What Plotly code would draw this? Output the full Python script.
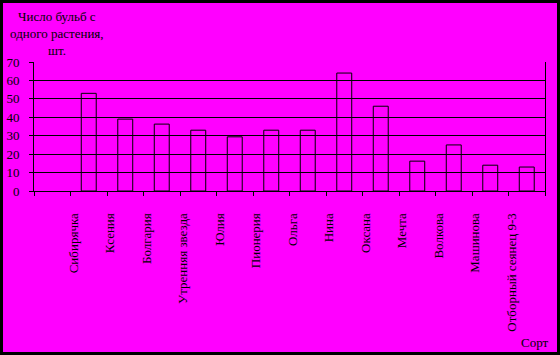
import plotly.graph_objects as go

categories = [" ", "Сибирячка", "Ксения", "Болгария", "Утренняя звезда", "Юлия",
              "Пионерия", "Ольга", "Нина", "Оксана", "Мечта", "Волкова",
              "Машинова", "Отборный сеянец 9-3"]
values = [None, 53, 39, 36.3, 33, 29.4, 33, 33, 64, 46, 16.2, 25, 14, 13]
y_ticks = [0, 10, 20, 30, 40, 50, 60, 70]

W, H = 560, 355
ML, MR, MT, MB = 34, 15, 62, 164
PW, PH = W - ML - MR, H - MT - MB

def px_x(p):
    return (p - ML) / PW

def px_y(p):
    return 1 - (p - MT) / PH

FONT = "Liberation Serif"
MAG = "#FF00FF"

fig = go.Figure(go.Bar(
    x=categories, y=values, width=0.41,
    marker=dict(color="rgba(0,0,0,0)", line=dict(color="black", width=1)),
))

fig.update_layout(
    width=W, height=H,
    margin=dict(l=ML, r=MR, t=MT, b=MB),
    paper_bgcolor=MAG, plot_bgcolor=MAG,
    showlegend=False,
    font=dict(family=FONT, size=13, color="black"),
    xaxis=dict(
        type="category", categoryorder="array", categoryarray=categories,
        range=[-0.5, len(categories) - 0.5], automargin=False,
        tickson="boundaries", ticks="outside", ticklen=4, tickcolor="black",
        tickwidth=1, tickangle=-90, ticklabelshift=-15, ticklabelstandoff=16,
        showline=True, linecolor="black", linewidth=1, showgrid=False,
        tickfont=dict(family=FONT, size=13, color="black"),
    ),
    yaxis=dict(
        range=[0, 70], tickvals=y_ticks, ticks="outside", ticklen=4,
        automargin=False,
        tickcolor="black", showline=True, linecolor="black", linewidth=1,
        mirror=True, showgrid=True, gridcolor="black", gridwidth=1,
        zeroline=False, ticklabelstandoff=7,
        tickfont=dict(family=FONT, size=13, color="black"),
    ),
)

title_lines = [("Число бульб с", 16), ("одного растения,", 33), ("шт.", 50)]
for txt, yc in title_lines:
    fig.add_annotation(text=txt, xref="paper", yref="paper",
                       x=px_x(57), y=px_y(yc), xanchor="center", yanchor="middle",
                       showarrow=False, font=dict(family=FONT, size=13, color="black"))

fig.add_annotation(text="Сорт", xref="paper", yref="paper",
                   x=px_x(535), y=px_y(342), xanchor="center", yanchor="middle",
                   showarrow=False, font=dict(family=FONT, size=13, color="black"))

fig.add_shape(type="rect", xref="paper", yref="paper",
              x0=px_x(0), x1=px_x(W), y0=px_y(H), y1=px_y(0),
              line=dict(color="black", width=6), fillcolor="rgba(0,0,0,0)",
              layer="above")

fig.write_html("out.html")
